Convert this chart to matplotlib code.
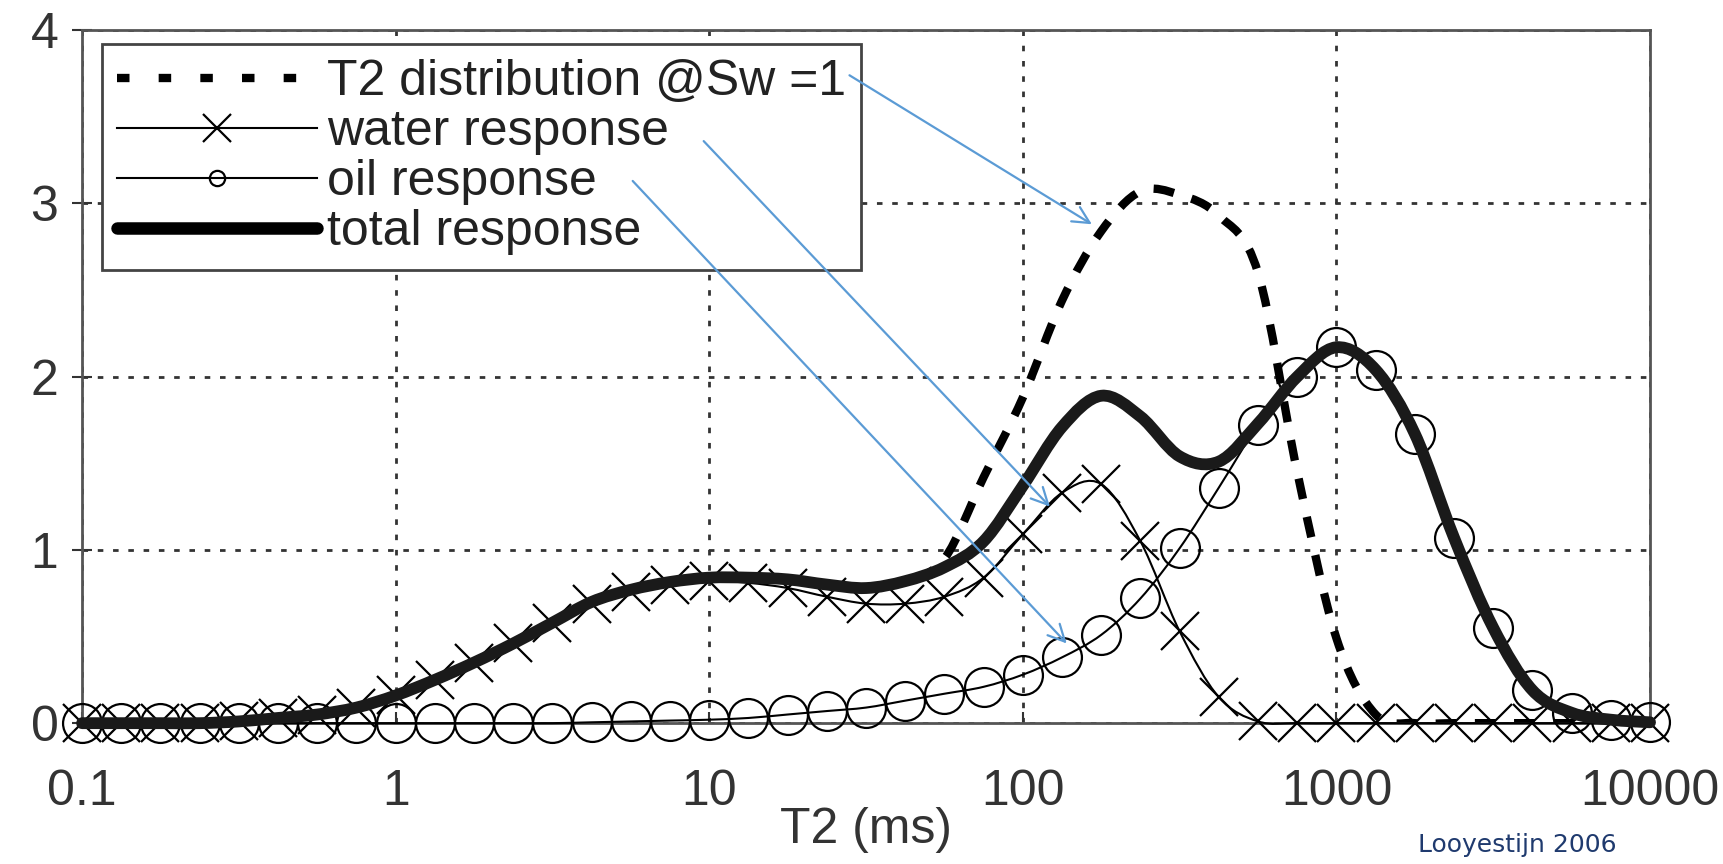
import numpy as np
import matplotlib
matplotlib.use("Agg")
import matplotlib.pyplot as plt
from matplotlib.lines import Line2D
from matplotlib.path import Path
from matplotlib.patches import PathPatch

plt.rcParams['font.family'] = ['Liberation Sans', 'DejaVu Sans']

# T2 sample points: 8 per decade, 0.1 .. 10000 ms
t2 = np.logspace(-1, 4, 41)

water = [0, 0, 0, 0, 0.01, 0.03, 0.05, 0.09, 0.16, 0.25,
         0.35, 0.46, 0.58, 0.69, 0.76, 0.80, 0.82, 0.81, 0.78, 0.73,
         0.69, 0.69, 0.73, 0.84, 1.09, 1.33, 1.38, 1.05, 0.53, 0.15,
         0.01, 0, 0, 0, 0, 0, 0, 0, 0, 0, 0]

oil = [0, 0, 0, 0, 0, 0, 0, 0, 0, 0,
       0, 0, 0, 0.005, 0.01, 0.015, 0.02, 0.03, 0.05, 0.07,
       0.09, 0.13, 0.17, 0.21, 0.28, 0.38, 0.51, 0.72, 1.01, 1.36,
       1.72, 2.00, 2.17, 2.04, 1.67, 1.07, 0.55, 0.19, 0.06, 0.02, 0.005]

total = [0, 0, 0, 0, 0.01, 0.03, 0.05, 0.09, 0.16, 0.25,
         0.35, 0.46, 0.58, 0.70, 0.77, 0.815, 0.84, 0.84, 0.83, 0.80,
         0.78, 0.82, 0.90, 1.05, 1.37, 1.71, 1.89, 1.77, 1.54, 1.51,
         1.73, 2.00, 2.17, 2.04, 1.67, 1.07, 0.55, 0.19, 0.06, 0.02, 0.005]

sw1 = [0, 0, 0, 0, 0.01, 0.03, 0.05, 0.09, 0.16, 0.25,
       0.35, 0.46, 0.58, 0.70, 0.77, 0.815, 0.84, 0.84, 0.83, 0.80,
       0.78, 0.82, 0.95, 1.42, 1.88, 2.44, 2.84, 3.07, 3.05, 2.93,
       2.60, 1.45, 0.49, 0.05, 0, 0, 0, 0, 0, 0, 0]

xticks = [0.1, 1, 10, 100, 1000, 10000]
xticklabels = ['0.1', '1', '10', '100', '1000', '10000']
yticks = [0, 1, 2, 3, 4]


def smooth_path(x, y):
    # excel-like smoothed line: catmull-rom segments as cubic beziers (in log x)
    lx = np.log10(np.asarray(x, dtype=float))
    y = np.asarray(y, dtype=float)
    n = len(lx)
    pts = np.column_stack([lx, y])
    verts = [pts[0]]
    codes = [Path.MOVETO]
    for i in range(n - 1):
        p0 = pts[max(i - 1, 0)]
        p1 = pts[i]
        p2 = pts[i + 1]
        p3 = pts[min(i + 2, n - 1)]
        verts += [p1 + (p2 - p0) / 6, p2 - (p3 - p1) / 6, p2]
        codes += [Path.CURVE4] * 3
    verts = np.array(verts)
    verts[:, 0] = 10 ** verts[:, 0]
    return Path(verts, codes)


fig = plt.figure(figsize=(17.24, 8.64), dpi=100)
ax = fig.add_axes([0.0476, 0.163, 0.9095, 0.802])
ax.set_xscale('log')
ax.set_xlim(0.1, 10000)
ax.set_ylim(0, 4)

ax.add_patch(PathPatch(smooth_path(t2, sw1), fill=False, color='black', lw=6,
                       linestyle=(0, (2.5, 2.2)), capstyle='butt', zorder=2))
ax.add_patch(PathPatch(smooth_path(t2, water), fill=False, color='black', lw=1.5,
                       clip_on=False, zorder=3))
ax.plot(t2, water, ls='none', color='black', marker='x', ms=28, mew=1.6, clip_on=False, zorder=3)
ax.add_patch(PathPatch(smooth_path(t2, oil), fill=False, color='black', lw=1.5,
                       clip_on=False, zorder=3))
ax.plot(t2, oil, ls='none', color='black', marker='o', ms=28, mew=1.6, mfc='none',
        clip_on=False, zorder=3)
ax.add_patch(PathPatch(smooth_path(t2, total), fill=False, color='#1a1a1a', lw=8.5,
                       capstyle='round', joinstyle='round', clip_on=False, zorder=4))

ax.set_xticks(xticks, xticklabels)
ax.minorticks_off()
ax.set_yticks(yticks)
ax.tick_params(axis='x', direction='in', length=8, width=1.5, pad=33, labelsize=36, colors='#333333')
ax.tick_params(axis='y', direction='inout', length=14, width=1.5, pad=10, labelsize=36, colors='#333333')
ax.grid(True, color='#333333', lw=2, linestyle=(0, (2, 3.5)))
for s in ax.spines.values():
    s.set_color('#555555')
    s.set_linewidth(2)
ax.set_xlabel('T2 (ms)', fontsize=36, color='#333333', labelpad=-6)

handles = [
    Line2D([], [], color='black', lw=6, dashes=(1.5, 3.5), dash_capstyle='butt'),
    Line2D([], [], color='black', lw=1.5, marker='x', ms=20, mew=1.6),
    Line2D([], [], color='black', lw=1.5, marker='o', ms=11, mew=1.6, mfc='none'),
    Line2D([], [], color='black', lw=9, solid_capstyle='round'),
]
labels = ['T2 distribution @Sw =1', 'water response', 'oil response', 'total response']
leg = ax.legend(handles, labels, loc='upper left', bbox_to_anchor=(0.0128, 0.98),
                borderaxespad=0, fontsize=36, handlelength=4.0, handletextpad=0.2,
                labelspacing=0.08, borderpad=0.3, fancybox=False, framealpha=1,
                edgecolor='#444444')
leg.get_frame().set_linewidth(2)
for t in leg.get_texts():
    t.set_color('#222222')

arrow = dict(arrowstyle='->', color='#5b9bd5', lw=1.6, mutation_scale=30, shrinkA=0, shrinkB=0)
ax.annotate('', xy=(166, 2.88), xytext=(28, 3.74), arrowprops=arrow, zorder=6)
ax.annotate('', xy=(122, 1.25), xytext=(9.6, 3.36), arrowprops=arrow, zorder=6)
ax.annotate('', xy=(138, 0.46), xytext=(5.7, 3.13), arrowprops=arrow, zorder=6)

fig.text(0.88, 0.008, 'Looyestijn 2006', fontsize=18, color='#1f3a6e', ha='center', va='bottom',
         family='DejaVu Sans')

fig.savefig('out.png', dpi=100)
